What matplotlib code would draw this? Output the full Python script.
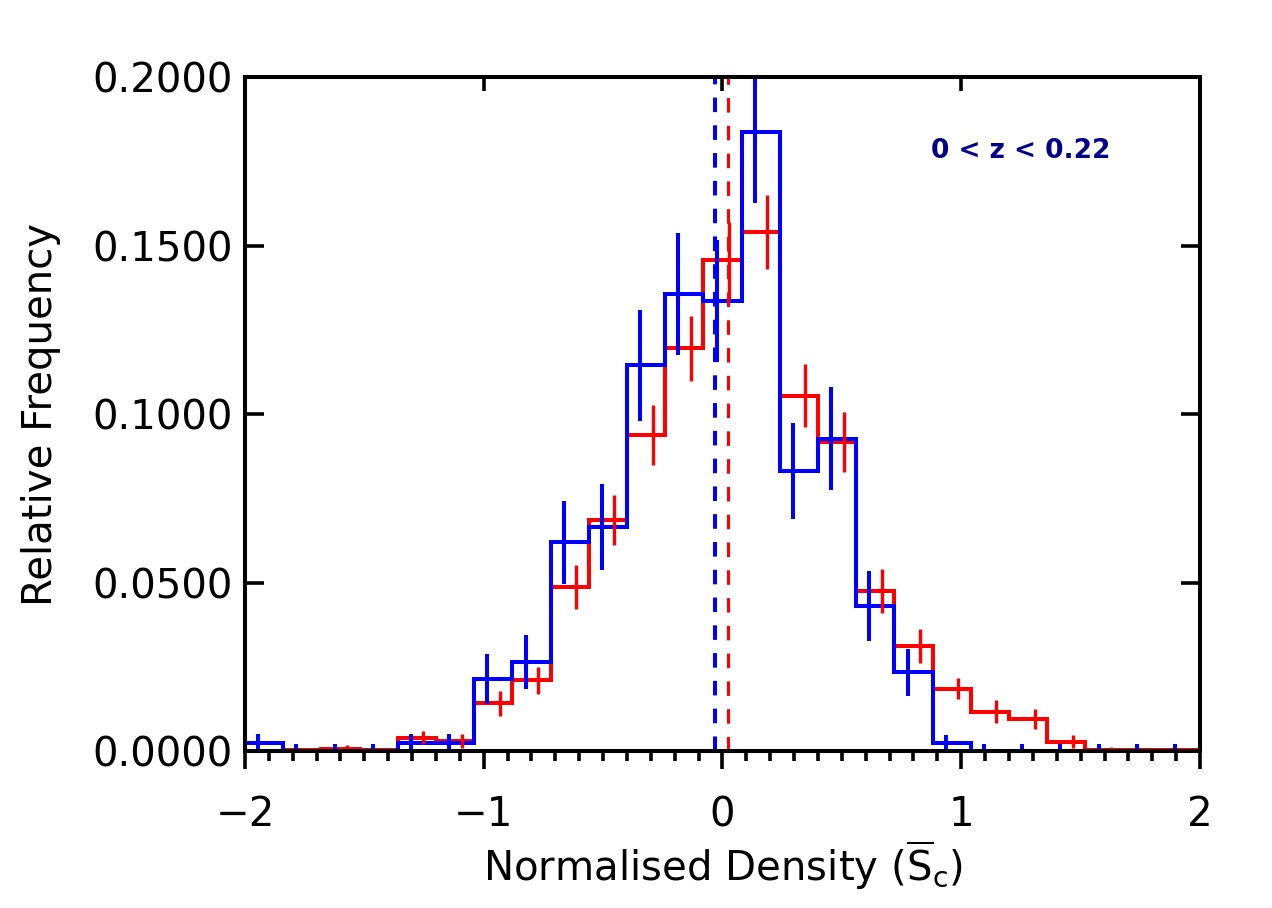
import numpy as np
import matplotlib
matplotlib.use("Agg")
import matplotlib.pyplot as plt
from matplotlib.ticker import MultipleLocator, FormatStrFormatter

# bin edges of the normalised density histogram
edges = np.linspace(-2.0, 2.0, 26)

red_freq = [0.0, 0.0003, 0.0007, 0.0003, 0.0040, 0.0030, 0.0142, 0.0210,
            0.0486, 0.0686, 0.0938, 0.1195, 0.1456, 0.1540, 0.1054, 0.0916,
            0.0474, 0.0311, 0.0185, 0.0116, 0.0096, 0.0028, 0.0003, 0.0002,
            0.0002]
red_err = [0.0005, 0.0005, 0.0010, 0.0005, 0.0020, 0.0020, 0.0037, 0.0040,
           0.0065, 0.0075, 0.0088, 0.0097, 0.0115, 0.0110, 0.0094, 0.0089,
           0.0065, 0.0050, 0.0032, 0.0034, 0.0030, 0.0020, 0.0010, 0.0005,
           0.0005]

blue_freq = [0.0024, 0.0, 0.0, 0.0, 0.0024, 0.0024, 0.0213, 0.0263,
             0.0619, 0.0664, 0.1144, 0.1357, 0.1336, 0.1837, 0.0831, 0.0927,
             0.0430, 0.0234, 0.0023, 0.0, 0.0, 0.0, 0.0, 0.0, 0.0]
blue_err = [0.0025, 0.0020, 0.0020, 0.0020, 0.0025, 0.0025, 0.0074, 0.0080,
            0.0122, 0.0128, 0.0166, 0.0181, 0.0181, 0.0212, 0.0142, 0.0153,
            0.0103, 0.0070, 0.0025, 0.0020, 0.0020, 0.0020, 0.0020, 0.0020,
            0.0020]

red_median = 0.025
blue_median = -0.032

centers = 0.5 * (edges[:-1] + edges[1:])

plt.rcParams['font.family'] = ['DejaVu Sans']
plt.rcParams['lines.scale_dashes'] = False

fig = plt.figure(figsize=(12.72, 9.08), dpi=100)
ax = fig.add_axes([0.1926, 0.1729, 0.7508, 0.7423])

ax.stairs(red_freq, edges, color='red', lw=2.9)
ax.errorbar(centers + 0.027, red_freq, yerr=red_err, fmt='none',
            ecolor='red', elinewidth=2.4)
ax.stairs(blue_freq, edges, color='blue', lw=2.9)
ax.errorbar(centers - 0.025, blue_freq, yerr=blue_err, fmt='none',
            ecolor='blue', elinewidth=2.9)

ax.axvline(red_median, color='red', lw=2.2, dashes=(10.5, 9.5))
ax.axvline(blue_median, color='blue', lw=2.9, dashes=(10.5, 9.5))

ax.set_xlim(-2, 2)
ax.set_ylim(0, 0.2)

ax.xaxis.set_major_locator(MultipleLocator(1))
ax.xaxis.set_minor_locator(MultipleLocator(0.1))
ax.yaxis.set_major_locator(MultipleLocator(0.05))
ax.yaxis.set_major_formatter(FormatStrFormatter('%.4f'))

for s in ax.spines.values():
    s.set_linewidth(2.9)

ax.tick_params(axis='x', which='major', direction='out', length=13, width=2.6,
               labelsize=29, pad=19, top=True)
ax.tick_params(axis='x', which='minor', direction='out', length=7, width=2.6,
               top=False)
ax.tick_params(axis='y', which='major', direction='in', length=14, width=2.6,
               labelsize=29, pad=9, right=True)
for t in ax.xaxis.get_major_ticks():
    t.tick2line.set_marker(3)
    t.tick2line.set_markersize(10)

ylabels = ax.get_yticklabels()
ylabels[0].set_va('bottom')
ylabels[-1].set_va('top')

ax.set_xlabel(r'Normalised Density ($\overline{\mathregular{S}}_\mathregular{c}$)',
              fontsize=29, labelpad=2)
ax.set_ylabel('Relative Frequency', fontsize=29, labelpad=22)

ax.text(0.718, 0.88, '0 < z < 0.22', transform=ax.transAxes, fontsize=19,
        fontweight='bold', color='#00008b')

fig.savefig('out.png', dpi=100)
